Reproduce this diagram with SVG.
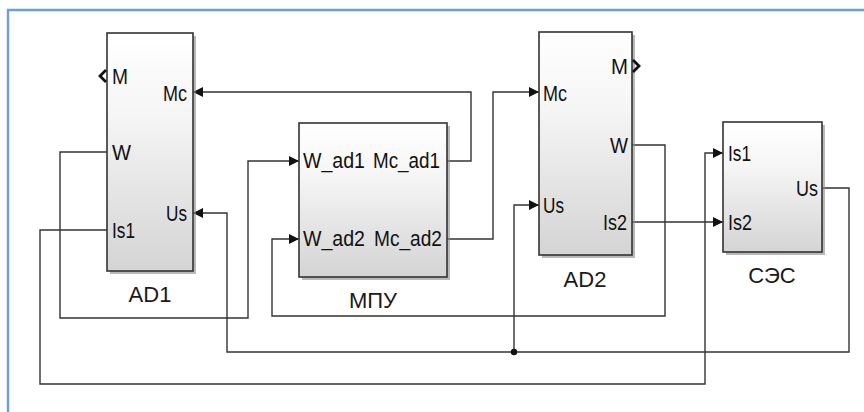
<svg xmlns="http://www.w3.org/2000/svg" width="864" height="412" viewBox="0 0 864 412">
<defs>
<linearGradient id="blk" x1="0" y1="0" x2="0" y2="1">
<stop offset="0" stop-color="#ffffff"/>
<stop offset="0.35" stop-color="#f5f5f5"/>
<stop offset="1" stop-color="#d4d4d4"/>
</linearGradient>
<marker id="arr" viewBox="0 0 10 10" refX="10" refY="5" markerWidth="10" markerHeight="10" markerUnits="userSpaceOnUse" orient="auto">
<path d="M0,0 L10,5 L0,10 z" fill="#111"/>
</marker>
</defs>
<style>
.frame{fill:none;stroke:#6a9fd8;stroke-width:2.4}
.box{fill:url(#blk);stroke:#333;stroke-width:1.6}
.shadow{fill:#8a8a8a;opacity:0.6}
.wire{fill:none;stroke:#333;stroke-width:1.4}
.port{font-family:"Liberation Sans",Arial,sans-serif;font-size:21.5px;fill:#111}
.name{font-family:"Liberation Sans",Arial,sans-serif;font-size:22px;fill:#1a1a1a;text-anchor:middle}
.chev{fill:none;stroke:#111;stroke-width:2.8}
</style>
<rect x="0" y="0" width="864" height="412" fill="#ffffff"/>
<path class="frame" d="M8,412 V10 H864"/>

<g id="connectors">
<path class="wire" d="M107,152 H60 V318 H248 V161 H299" marker-end="url(#arr)"/>
<path class="wire" d="M447,161 H471 V92 H193" marker-end="url(#arr)"/>
<path class="wire" d="M447,239 H493 V92 H539" marker-end="url(#arr)"/>
<path class="wire" d="M632,145 H665 V316 H272 V239 H299" marker-end="url(#arr)"/>
<path class="wire" d="M632,222 H723" marker-end="url(#arr)"/>
<path class="wire" d="M107,230 H40 V384 H705 V153 H723" marker-end="url(#arr)"/>
<path class="wire" d="M822,188 H849 V352 H227 V213 H193" marker-end="url(#arr)"/>
<path class="wire" d="M514,352 V205 H539" marker-end="url(#arr)"/>
<circle cx="514" cy="352" r="3.2" fill="#111"/>
</g>

<g id="AD1">
<rect class="shadow" x="110" y="36" width="86" height="238"/>
<rect class="box" x="107" y="33" width="86" height="238"/>
<path class="chev" d="M106,70 L100,76 L106,82"/>
<text class="port" x="112" y="84" textLength="16" lengthAdjust="spacingAndGlyphs">M</text>
<text class="port" x="163" y="101" textLength="24" lengthAdjust="spacingAndGlyphs">Mc</text>
<text class="port" x="112" y="160" textLength="19" lengthAdjust="spacingAndGlyphs">W</text>
<text class="port" x="166" y="221" textLength="21" lengthAdjust="spacingAndGlyphs">Us</text>
<text class="port" x="112" y="238" textLength="23" lengthAdjust="spacingAndGlyphs">Is1</text>
<text class="name" x="150" y="302">AD1</text>
</g>

<g id="MPU">
<rect class="shadow" x="302" y="126" width="148" height="154"/>
<rect class="box" x="299" y="123" width="148" height="154"/>
<text class="port" x="303" y="168" textLength="62" lengthAdjust="spacingAndGlyphs">W_ad1</text>
<text class="port" x="373" y="168" textLength="67" lengthAdjust="spacingAndGlyphs">Mc_ad1</text>
<text class="port" x="303" y="246" textLength="62" lengthAdjust="spacingAndGlyphs">W_ad2</text>
<text class="port" x="374" y="246" textLength="68" lengthAdjust="spacingAndGlyphs">Mc_ad2</text>
<text class="name" x="373" y="308">МПУ</text>
</g>

<g id="AD2">
<rect class="shadow" x="542" y="35" width="93" height="223"/>
<rect class="box" x="539" y="32" width="93" height="223"/>
<path class="chev" d="M633,60 L639,66 L633,72"/>
<text class="port" x="611" y="74" textLength="17" lengthAdjust="spacingAndGlyphs">M</text>
<text class="port" x="543" y="101" textLength="24" lengthAdjust="spacingAndGlyphs">Mc</text>
<text class="port" x="610" y="153" textLength="18" lengthAdjust="spacingAndGlyphs">W</text>
<text class="port" x="543" y="213" textLength="21" lengthAdjust="spacingAndGlyphs">Us</text>
<text class="port" x="603" y="230" textLength="24" lengthAdjust="spacingAndGlyphs">Is2</text>
<text class="name" x="585" y="287">AD2</text>
</g>

<g id="SES">
<rect class="shadow" x="726" y="125" width="99" height="130"/>
<rect class="box" x="723" y="122" width="99" height="130"/>
<text class="port" x="728" y="161" textLength="23" lengthAdjust="spacingAndGlyphs">Is1</text>
<text class="port" x="796" y="196" textLength="22" lengthAdjust="spacingAndGlyphs">Us</text>
<text class="port" x="728" y="230" textLength="24" lengthAdjust="spacingAndGlyphs">Is2</text>
<text class="name" x="772" y="283">СЭС</text>
</g>
</svg>
